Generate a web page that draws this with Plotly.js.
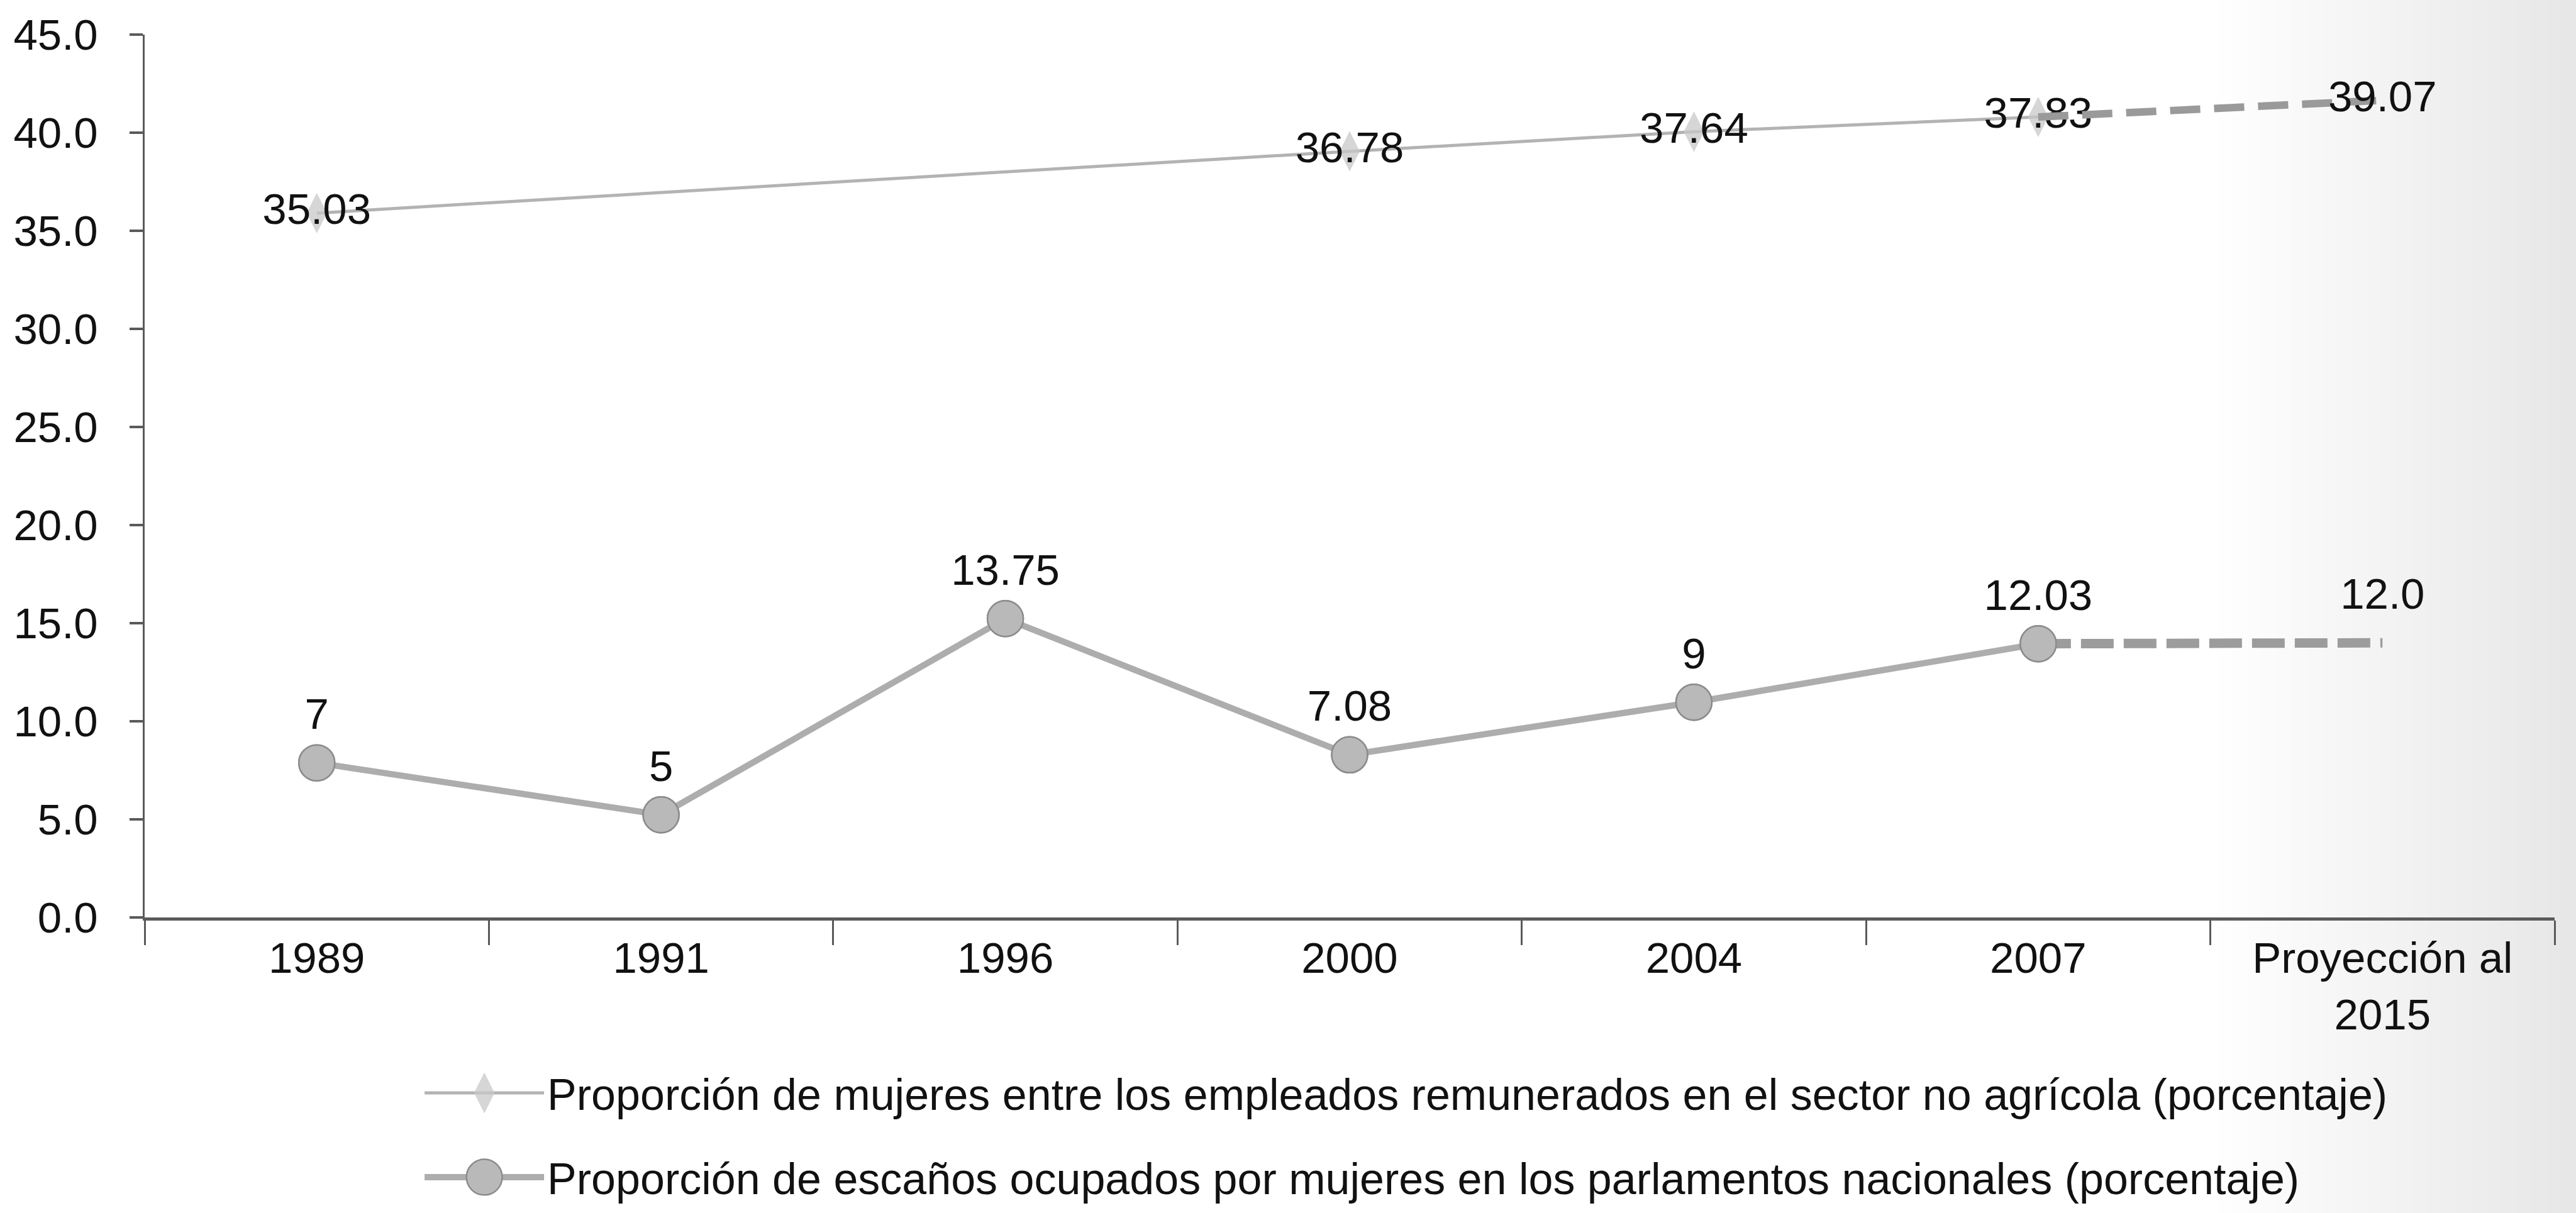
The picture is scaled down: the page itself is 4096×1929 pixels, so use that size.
<!DOCTYPE html>
<html>
<head>
<meta charset="utf-8">
<script src="https://cdn.plot.ly/plotly-3.0.1.min.js"></script>
<style>html,body{margin:0;padding:0;background:#fff;}#chart{width:4096px;height:1929px;}</style>
</head>
<body>
<div id="chart"></div>
<script>
// Categories (x axis)
const categories = ['1989', '1991', '1996', '2000', '2004', '2007', 'Proyección al 2015'];
const categoryLabels = ['1989', '1991', '1996', '2000', '2004', '2007', 'Proyección al<br>2015'];

// Series 1: women among paid employees in non-agricultural sector (positions)
const empleoValues = [35.9, null, null, 39.05, 40.05, 40.8, 41.65];
const empleoLabels = ['35.03', '', '', '36.78', '37.64', '37.83', '39.07'];

// Series 2: seats held by women in national parliaments (positions)
const escanosValues = [7.88, 5.23, 15.23, 8.29, 10.97, 13.95, 14.0];
const escanosLabels = ['7', '5', '13.75', '7.08', '9', '12.03', '12.0'];

const serieNames = [
  'Proporción de mujeres entre los empleados remunerados en el sector no agrícola (porcentaje)',
  'Proporción de escaños ocupados por mujeres en los parlamentos nacionales (porcentaje)'
];

const yTicks = [0, 5, 10, 15, 20, 25, 30, 35, 40, 45];

const nObs = 6; // observed points (1989..2007); last category is a projection
const FONT = '"Liberation Sans", Arial, Helvetica, sans-serif';
const FS = 69;

const traces = [
  // Series 1 observed
  {
    x: categories.slice(0, nObs), y: empleoValues.slice(0, nObs),
    text: empleoLabels.slice(0, nObs),
    mode: 'lines+markers+text', connectgaps: true,
    name: serieNames[0], legendgroup: 'a',
    line: {color: '#b3b3b3', width: 5},
    marker: {symbol: 'diamond-tall', size: 46, color: 'rgba(200,200,200,0.75)', line: {width: 0}},
    textposition: 'middle center',
    textfont: {family: FONT, size: FS, color: '#111'},
    cliponaxis: false, hoverinfo: 'skip'
  },
  // Series 1 projection
  {
    x: categories.slice(nObs - 1), y: empleoValues.slice(nObs - 1),
    text: ['', empleoLabels[nObs]],
    mode: 'lines+text', showlegend: false,
    line: {color: '#9a9a9a', width: 12, dash: '48px,22px'},
    textposition: 'middle center',
    textfont: {family: FONT, size: FS, color: '#111'},
    cliponaxis: false, hoverinfo: 'skip'
  },
  // Series 2 observed
  {
    x: categories.slice(0, nObs), y: escanosValues.slice(0, nObs),
    text: escanosLabels.slice(0, nObs),
    mode: 'lines+markers+text',
    name: serieNames[1], legendgroup: 'b',
    line: {color: '#adadad', width: 10},
    marker: {symbol: 'circle', size: 57, color: '#b9b9b9', line: {color: '#8c8c8c', width: 2.5}},
    textposition: 'top center',
    textfont: {family: FONT, size: FS, color: '#111'},
    cliponaxis: false, hoverinfo: 'skip'
  },
  // Series 2 projection
  {
    x: categories.slice(nObs - 1), y: escanosValues.slice(nObs - 1),
    text: ['', escanosLabels[nObs]],
    mode: 'lines+markers+text', showlegend: false,
    line: {color: '#9c9c9c', width: 15, dash: '52px,16px'},
    marker: {size: 57, color: 'rgba(0,0,0,0)', line: {width: 0}},
    textposition: 'top center',
    textfont: {family: FONT, size: FS, color: '#111'},
    cliponaxis: false, hoverinfo: 'skip'
  }
];

// redraw series 2 observed markers on top of the dashed projection start
traces.push(Object.assign({}, traces[2], {showlegend: false, text: null, mode: 'markers'}));

// faint scanned-page shading toward the right edge (background only)
const shadeSteps = 24;
const shapes = [];
for (let i = 0; i < shadeSteps; i++) {
  shapes.push({
    type: 'rect', xref: 'paper', yref: 'paper', layer: 'below',
    x0: 0.86 + i * 0.0062, x1: 1.02, y0: -0.45, y1: 1.1,
    line: {width: 0}, fillcolor: 'rgba(0,0,0,0.0048)'
  });
}

const layout = {
  width: 4096, height: 1929,
  margin: {l: 230, r: 34, t: 55, b: 470, autoexpand: false},
  paper_bgcolor: '#ffffff', plot_bgcolor: 'rgba(0,0,0,0)',
  font: {family: FONT, size: FS, color: '#111'},
  showlegend: true,
  shapes: shapes,
  legend: {
    xref: 'container', yref: 'container',
    x: 0.1636, y: 0.126, xanchor: 'left', yanchor: 'top',
    orientation: 'v', bgcolor: 'rgba(0,0,0,0)',
    font: {family: FONT, size: 70, color: '#111'},
    itemwidth: 190, tracegroupgap: 40
  },
  xaxis: {
    type: 'category', categoryorder: 'array', categoryarray: categories,
    tickvals: categories, ticktext: categoryLabels, tickangle: 0,
    range: [-0.5, categories.length - 0.5],
    tickson: 'boundaries', ticks: 'outside', ticklen: 39, tickwidth: 3, tickcolor: '#5a5a5a',
    showline: true, linecolor: '#5a5a5a', linewidth: 5,
    showgrid: false, zeroline: false,
    tickfont: {family: FONT, size: FS, color: '#111'},
    fixedrange: true
  },
  yaxis: {
    range: [0, 45], tickvals: yTicks, tickformat: '.1f',
    ticks: 'outside', ticklen: 21, tickwidth: 4, tickcolor: '#5a5a5a',
    showline: true, linecolor: '#5a5a5a', linewidth: 3.5,
    showgrid: false, zeroline: false,
    ticklabelstandoff: 36,
    tickfont: {family: FONT, size: FS, color: '#111'},
    fixedrange: true
  }
};

// legend symbols in the reference are as large as the plotted markers
const legendSymbolScale = [2.9, 3.55];

Plotly.newPlot('chart', traces, layout, {displayModeBar: false, staticPlot: true}).then(function (gd) {
  const groups = gd.querySelectorAll('.legend .traces');
  groups.forEach(function (g, i) {
    g.querySelectorAll('.legendpoints path.scatterpts').forEach(function (p) {
      const t = p.getAttribute('transform') || '';
      p.setAttribute('transform', t + ' scale(' + (legendSymbolScale[i] || 1) + ')');
      p.style.vectorEffect = 'non-scaling-stroke';
    });
  });
});
</script>
</body>
</html>
